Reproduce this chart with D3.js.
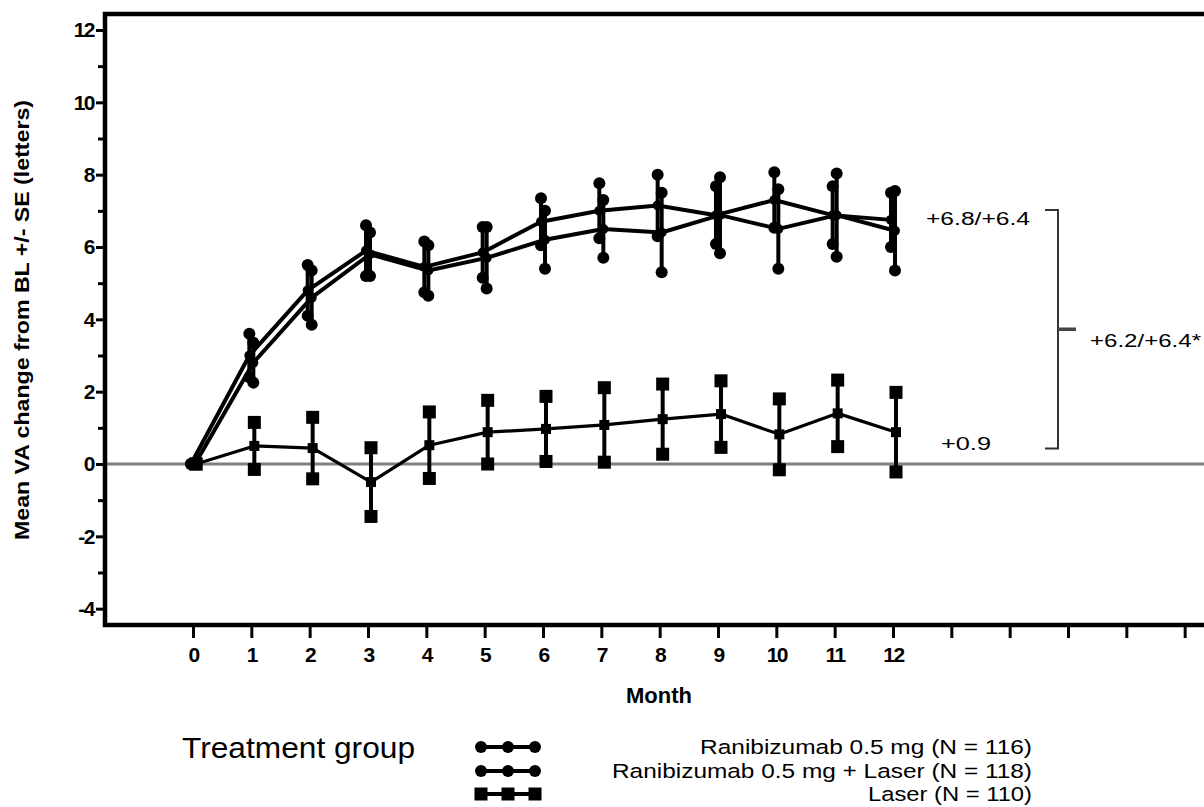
<!DOCTYPE html>
<html>
<head>
<meta charset="utf-8">
<script src="https://cdn.jsdelivr.net/npm/d3@7/dist/d3.min.js"></script>
<style>
  html, body { margin: 0; padding: 0; background: #fff; }
  svg { display: block; }
  text { font-family: "Liberation Sans", Arial, sans-serif; fill: #000; }
</style>
</head>
<body>
<svg id="chart" width="1204" height="807"></svg>
<script>
// Mean visual acuity change from baseline (letters), monthly visits
const months = [0, 1, 2, 3, 4, 5, 6, 7, 8, 9, 10, 11, 12];

const ranibMean  = [0, 3.0, 4.8, 5.9, 5.45, 5.85, 6.7, 7.0, 7.15, 6.88, 7.3, 6.88, 6.75];
const ranibSE    = [0, 0.6, 0.7, 0.7, 0.7, 0.7, 0.65, 0.76, 0.85, 0.8, 0.77, 0.8, 0.75];

const comboMean  = [0, 2.8, 4.6, 5.8, 5.35, 5.7, 6.2, 6.5, 6.4, 6.88, 6.5, 6.88, 6.45];
const comboSE    = [0, 0.55, 0.75, 0.6, 0.7, 0.85, 0.8, 0.8, 1.1, 1.05, 1.1, 1.15, 1.1];

const laserMean  = [0, 0.5, 0.44, -0.5, 0.52, 0.88, 0.97, 1.08, 1.24, 1.38, 0.82, 1.4, 0.88];
const laserSE    = [0, 0.65, 0.85, 0.95, 0.92, 0.88, 0.9, 1.03, 0.97, 0.92, 0.98, 0.92, 1.1];

const seriesNames = [
  "Ranibizumab 0.5 mg (N = 116)",
  "Ranibizumab 0.5 mg + Laser (N = 118)",
  "Laser (N = 110)"
];
const seriesSymbols = ["circle", "circle", "square"];

const xTickValues = d3.range(0, 18);
const xTickLabels = months.map(String);
const yMajorTicks = [-4, -2, 0, 2, 4, 6, 8, 10, 12];
const yMinorTicks = [-3, -1, 1, 3, 5, 7, 9, 11];

const endLabels = ["+6.8/+6.4", "+0.9"];
const bracketLabel = "+6.2/+6.4*";
const bracketRange = [6.8, 0.9];

const series = [
  { name: seriesNames[0], mean: ranibMean, se: ranibSE, symbol: seriesSymbols[0], dx: -2, width: 4 },
  { name: seriesNames[1], mean: comboMean, se: comboSE, symbol: seriesSymbols[1], dx: 2, width: 4 },
  { name: seriesNames[2], mean: laserMean, se: laserSE, symbol: seriesSymbols[2], dx: 3, width: 3.2 }
];

const svg = d3.select("#chart");

// Condensed look: squeeze text horizontally to a set width
function fit(sel, width) {
  sel.attr("textLength", width).attr("lengthAdjust", "spacingAndGlyphs");
  return sel;
}

// Plot frame geometry
const frame = { left: 105, top: 14, right: 1230, bottom: 625 };

const x = d3.scaleLinear().domain([0, 12]).range([193, 893]);
const y = d3.scaleLinear().domain([0, 12]).range([464, 30]);

// Zero reference line
svg.append("line")
  .attr("x1", frame.left).attr("x2", 1204)
  .attr("y1", y(0)).attr("y2", y(0))
  .attr("stroke", "#808080").attr("stroke-width", 3);

// Frame (top, left, bottom)
svg.append("path")
  .attr("d", `M${frame.right},${frame.top} L${frame.left},${frame.top} L${frame.left},${frame.bottom} L${frame.right},${frame.bottom}`)
  .attr("fill", "none").attr("stroke", "#000").attr("stroke-width", 4.5);

// Y axis ticks and labels
const yAxis = d3.axisLeft(y)
  .tickValues(yMajorTicks)
  .tickSize(7)
  .tickPadding(2)
  .tickFormat(d => String(d));
const gy = svg.append("g").attr("transform", `translate(${frame.left - 2},0)`).call(yAxis);
gy.select(".domain").remove();
gy.selectAll(".tick line").attr("stroke", "#000").attr("stroke-width", 3);
gy.selectAll(".tick text")
  .attr("font-size", 21).attr("font-weight", "bold")
  .attr("letter-spacing", -1.5)
  .style("font-family", "'Liberation Sans', Arial, sans-serif");

const gyMinor = svg.append("g").attr("transform", `translate(${frame.left - 2},0)`)
  .call(d3.axisLeft(y).tickValues(yMinorTicks).tickSize(5).tickFormat(""));
gyMinor.select(".domain").remove();
gyMinor.selectAll(".tick line").attr("stroke", "#000").attr("stroke-width", 3);

// X axis ticks and labels
const xAxis = d3.axisBottom(x)
  .tickValues(xTickValues)
  .tickSize(11)
  .tickPadding(9)
  .tickFormat(d => d <= 12 ? xTickLabels[d] : "");
const gx = svg.append("g").attr("transform", `translate(0,${frame.bottom + 2})`).call(xAxis);
gx.select(".domain").remove();
gx.selectAll(".tick line").attr("stroke", "#000").attr("stroke-width", 3);
gx.selectAll(".tick text")
  .attr("font-size", 21).attr("font-weight", "bold")
  .attr("letter-spacing", -1.5)
  .style("font-family", "'Liberation Sans', Arial, sans-serif");

// Axis titles
fit(svg.append("text")
  .attr("x", 626).attr("y", 703)
  .attr("font-size", 22).attr("font-weight", "bold")
  .text("Month"), 66);

fit(svg.append("text")
  .attr("transform", `translate(29,540) rotate(-90)`)
  .attr("font-size", 21).attr("font-weight", "bold")
  .text("Mean VA change from BL +/- SE (letters)"), 440);

// Markers
function drawMarker(g, symbol, cx, cy, size) {
  if (symbol === "square") {
    g.append("rect")
      .attr("x", cx - size / 2).attr("y", cy - size / 2)
      .attr("width", size).attr("height", size)
      .attr("fill", "#000");
  } else {
    g.append("circle")
      .attr("cx", cx).attr("cy", cy).attr("r", size / 2)
      .attr("fill", "#000");
  }
}

const line = d3.line();

series.forEach(s => {
  const g = svg.append("g");
  const pts = months.map((m, i) => [x(m) + s.dx, y(s.mean[i])]);
  g.append("path")
    .attr("d", line(pts))
    .attr("fill", "none").attr("stroke", "#000")
    .attr("stroke-width", s.width).attr("stroke-linejoin", "round");

  months.forEach((m, i) => {
    const cx = x(m) + s.dx;
    const hi = s.mean[i] + s.se[i];
    const lo = s.mean[i] - s.se[i];
    g.append("line")
      .attr("x1", cx).attr("x2", cx)
      .attr("y1", y(hi)).attr("y2", y(lo))
      .attr("stroke", "#000").attr("stroke-width", 4);
    const endSize = s.symbol === "square" ? 13 : 12;
    drawMarker(g, s.symbol, cx, y(hi), endSize);
    drawMarker(g, s.symbol, cx, y(lo), endSize);
    drawMarker(g, s.symbol, cx, y(s.mean[i]), 10);
  });
});

// End-of-study values
fit(svg.append("text")
  .attr("x", 926).attr("y", y(6.8) + 7)
  .attr("font-size", 18)
  .text(endLabels[0]), 104);
fit(svg.append("text")
  .attr("x", 941).attr("y", y(0.9) + 19)
  .attr("font-size", 18)
  .text(endLabels[1]), 50);

// Bracket comparing treatment arms
const bx = 1058;
const by1 = y(bracketRange[0]) - 8;
const by2 = y(bracketRange[1]) + 17;
const bmid = (by1 + by2) / 2;
const bg = svg.append("g");
bg.append("path")
  .attr("d", `M1045,${by1} L${bx},${by1} L${bx},${by2} L1045,${by2}`)
  .attr("fill", "none").attr("stroke", "#333").attr("stroke-width", 2);
bg.append("line")
  .attr("x1", bx).attr("x2", 1076)
  .attr("y1", bmid).attr("y2", bmid)
  .attr("stroke", "#444").attr("stroke-width", 3.5);
fit(svg.append("text")
  .attr("x", 1090).attr("y", bmid + 18)
  .attr("font-size", 18)
  .text(bracketLabel), 111);

// Legend
fit(svg.append("text")
  .attr("x", 182).attr("y", 758)
  .attr("font-size", 30)
  .text("Treatment group"), 233);

const legendRows = [747, 771, 794];
const legendWidths = [332, 420, 164];
series.forEach((s, i) => {
  const g = svg.append("g");
  const ly = legendRows[i];
  g.append("line")
    .attr("x1", 481).attr("x2", 535)
    .attr("y1", ly).attr("y2", ly)
    .attr("stroke", "#000").attr("stroke-width", 4);
  [481, 508, 535].forEach(lx => drawMarker(g, s.symbol, lx, ly, s.symbol === "square" ? 13 : 12));
  fit(svg.append("text")
    .attr("x", 1032 - legendWidths[i]).attr("y", ly + 7)
    .attr("font-size", 20.5)
    .text(s.name), legendWidths[i]);
});
</script>
</body>
</html>
